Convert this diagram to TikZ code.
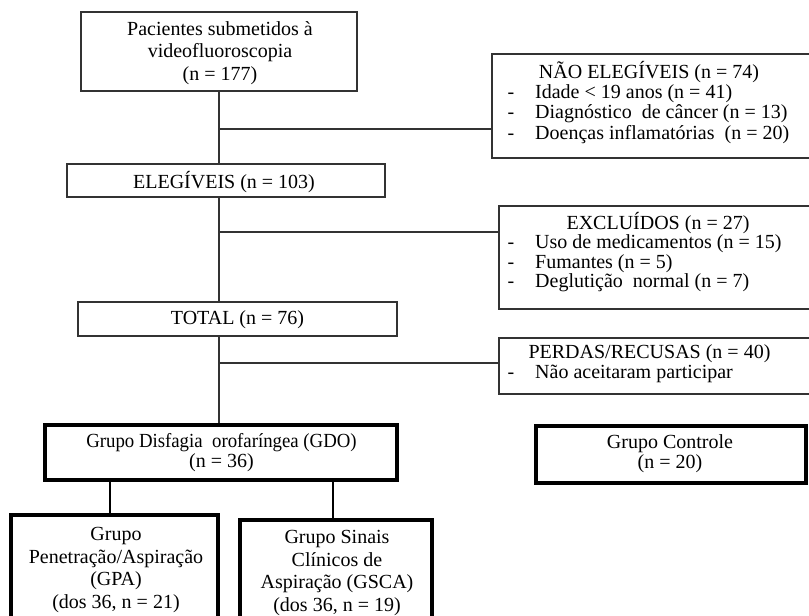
\documentclass[tikz,border=0pt]{standalone}
\usepackage{fontspec}
\setmainfont{Liberation Serif}
\begin{document}
\begin{tikzpicture}[x=1pt,y=-1pt,
  thinbox/.style={draw=black!80, line width=1.2pt, inner sep=0pt},
  thickbox/.style={draw=black, line width=4pt, inner sep=0pt},
  link/.style={draw=black!80, line width=1.2pt},
  thicklink/.style={draw=black, line width=2pt},
  txt/.style={inner sep=0pt, align=center, font=\fontsize{20}{22.5}\selectfont},
  ttl/.style={inner sep=0pt, font=\fontsize{20}{22}\selectfont},
  entry/.style={inner sep=0pt, anchor=west, text height=14pt, text depth=4pt,
    font=\fontsize{20}{22}\selectfont},
  dashmark/.style={inner sep=0pt, text height=14pt, text depth=4pt,
    font=\fontsize{20}{22}\selectfont},
]
\useasboundingbox[fill=white] (0,0) rectangle (809,616);

% ---- main column ----
\node[thinbox, minimum width=276pt, minimum height=79pt] (p) at (219,51.5) {};
\node[txt] (pt) at (220,53) {Pacientes submetidos à\\videofluoroscopia\\(n = 177)};

\node[thinbox, minimum width=318pt, minimum height=33pt] (el) at (226,180.5) {};
\node[ttl] (elt) at (224,182) {ELEGÍVEIS (n = 103)};

\node[thinbox, minimum width=319pt, minimum height=34pt] (tot) at (237.5,319) {};
\node[ttl] (tott) at (237.5,320) {TOTAL (n = 76)};

% ---- side boxes ----
\node[thinbox, minimum width=320pt, minimum height=104pt] (ne) at (652,106) {};
\node[ttl] (net) at (649,72) {NÃO ELEGÍVEIS (n = 74)};
\node[dashmark] (ned1) at (511,93) {-};
\node[dashmark] (ned2) at (511,113.5) {-};
\node[dashmark] (ned3) at (511,134) {-};
\node[entry] (ne1) at (535,93) {Idade < 19 anos (n = 41)};
\node[entry] (ne2) at (535,113.5) {Diagnóstico\ \ de câncer (n = 13)};
\node[entry] (ne3) at (535,134) {Doenças inflamatórias\ \ (n = 20)};

\node[thinbox, minimum width=313pt, minimum height=103pt] (ex) at (655.5,257.5) {};
\node[ttl] (ext) at (658,223) {EXCLUÍDOS (n = 27)};
\node[dashmark] (exd1) at (511,243) {-};
\node[dashmark] (exd2) at (511,263) {-};
\node[dashmark] (exd3) at (511,282) {-};
\node[entry] (ex1) at (535,243) {Uso de medicamentos (n = 15)};
\node[entry] (ex2) at (535,263) {Fumantes (n = 5)};
\node[entry] (ex3) at (535,282) {Deglutição\ \ normal (n = 7)};

\node[thinbox, minimum width=313pt, minimum height=56pt] (pr) at (655.5,366) {};
\node[ttl] (prt) at (649.5,354) {PERDAS/RECUSAS (n = 40)};
\node[dashmark] (prd1) at (511,373) {-};
\node[entry] (pr1) at (535,373) {Não aceitaram participar};

% ---- groups ----
\node[thickbox, minimum width=352pt, minimum height=55pt] (gdo) at (221,452.5) {};
\node[txt, font=\fontsize{20}{20}\selectfont] (gdot) at (221.5,453)
  {\scalebox{0.94}[1]{Grupo Disfagia\ \ orofaríngea (GDO)}\\(n = 36)};

\node[thickbox, minimum width=270pt, minimum height=57pt] (ctrl) at (671,454) {};
\node[txt, font=\fontsize{20}{20}\selectfont] (ctrlt) at (670,454) {Grupo Controle\\(n = 20)};

\node[thickbox, minimum width=207pt, minimum height=115pt] (gpa) at (114,572) {};
\node[txt] (gpat) at (116,570) {Grupo\\Penetração/Aspiração\\(GPA)\\(dos 36, n = 21)};

\node[thickbox, minimum width=191.5pt, minimum height=110.5pt] (gsca) at (335.75,574.75) {};
\node[txt] (gscat) at (337,573) {Grupo Sinais\\Clínicos de\\Aspiração (GSCA)\\(dos 36, n = 19)};

% ---- connectors ----
\draw[link] (p.south) -- (p.south |- el.north);
\draw[link] (p.south |- el.south) -- (p.south |- tot.north);
\draw[link] (p.south |- tot.south) -- (p.south |- gdo.north);

\coordinate (j1) at (219,129);
\coordinate (j2) at (219,232);
\coordinate (j3) at (219,363);
\draw[link] (j1) -- (j1 -| ne.west);
\draw[link] (j2) -- (j2 -| ex.west);
\draw[link] (j3) -- (j3 -| pr.west);

\coordinate (d1) at (109.5,0);
\coordinate (d2) at (333,0);
\draw[thicklink] (gdo.south -| d1) -- (gpa.north -| d1);
\draw[thicklink] (gdo.south -| d2) -- (gsca.north -| d2);
\end{tikzpicture}
\end{document}
